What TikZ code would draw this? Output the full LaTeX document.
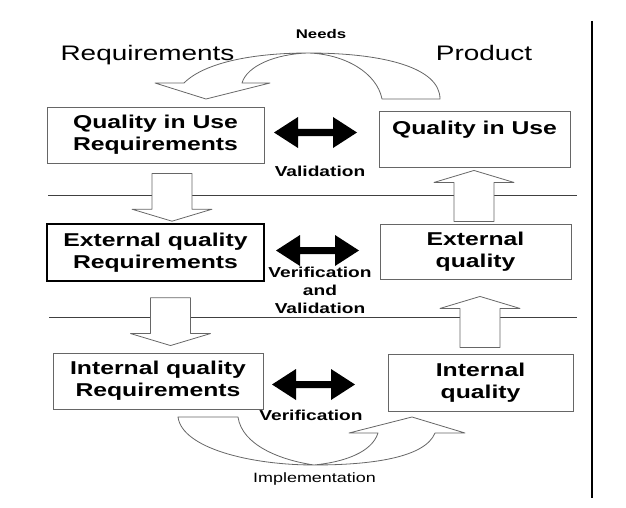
\documentclass[tikz,border=0pt]{standalone}
\usepackage{fontspec}
\setmainfont{Liberation Sans}[FakeStretch=1.33]
\usetikzlibrary{calc}

\begin{document}
\begin{tikzpicture}[x=1pt,y=-1pt,
    box/.style={draw=black!60, line width=0.9pt, align=center, font=\fontsize{18.6}{22}\selectfont\bfseries},
    hollow/.style={draw=black!60, line width=0.8pt, fill=white, line join=round},
    lbl/.style={font=\fontsize{14.4}{18}\selectfont\bfseries, align=center},
    head/.style={font=\fontsize{21}{25}\selectfont, anchor=base}]
  \useasboundingbox (0,0) rectangle (626,508);

  % Titles of the two columns
  \node[head] (req) at (147.5,61) {Requirements};
  \node[head] (prod) at (484,61) {Product};

  % Boxes, requirements on the left, product on the right
  \node[box, minimum width=217pt, minimum height=56pt] (qur) at (155.5,135) {Quality in Use\\Requirements};
  \node[box, minimum width=191pt, minimum height=56pt, text depth=21.6pt] (qu) at (474.5,139) {Quality in Use};
  \node[box, draw=black, line width=1.6pt, minimum width=217pt, minimum height=57pt] (eqr) at (155.5,252.5) {External quality\\Requirements};
  \node[box, minimum width=191pt, minimum height=55pt] (eq) at (475.5,251.5) {External\\quality};
  \node[box, minimum width=210pt, minimum height=56pt] (iqr) at (158,381) {Internal quality\\Requirements};
  \node[box, minimum width=185pt, minimum height=57pt] (iq) at (480.5,382.5) {Internal\\quality};

  % Labels
  \node[lbl, font=\fontsize{12.6}{15}\selectfont\bfseries, anchor=base] (needs) at (321,38.3) {Needs};
  \node[lbl, anchor=base] (val) at (320,176) {Validation};
  \node[lbl] (vv) at (320,290) {Verification\\and\\Validation};
  \node[lbl, anchor=base] (ver) at (311,420.7) {Verification};
  \node[anchor=base, font=\fontsize{13.5}{16}\selectfont] (impl) at (314.5,482.7) {Implementation};

  % Separators
  \draw[black!75, line width=1pt] (48,195) -- (577,195);
  \draw[black!75, line width=1pt] (49,317) -- (577,317);
  \draw[line width=1.2pt] (592,21) -- (592,498);

  % Black double arrows between the columns
  \foreach \cx/\cy in {315.5/132.5, 317.5/250.5, 313.5/384.5} {
      \fill (\cx,\cy) ++(-41.5,0) -- ++(24,-15.5) -- ++(0,12) -- ++(35,0) -- ++(0,-12)
          -- ++(24,15.5) -- ++(-24,15.5) -- ++(0,-12) -- ++(-35,0) -- ++(0,12) -- cycle;
  }

  % Hollow block arrows between the rows
  \foreach \src/\dst/\dx/\gs/\gd in {qur.south/eqr.north/16.5/10/2, eq.north/qu.south/-1.5/2/3,
                                     eqr.south/iqr.north/15/16/7, iq.north/eq.south/-0.5/6/17} {
      \path ($(\src)+(\dx,0)$) coordinate (s) (s |- \dst) coordinate (d)
          ($(s)!\gs pt!(d)$) coordinate (t) ($(d)!\gd pt!(s)$) coordinate (p)
          ($(p)!12pt!(t)$) coordinate (h);
      \draw[hollow] ($(t)+(-20,0)$) -- ($(h)+(-20,0)$) -- ($(h)+(-40,0)$) -- (p)
          -- ($(h)+(40,0)$) -- ($(h)+(20,0)$) -- ($(t)+(20,0)$) -- cycle;
  }

  % Needs: curved arrow from the product side back to the requirements
  \draw[hollow, fill=none] (440,99) .. controls (440,68) and (385,53) .. (308,53)
      .. controls (275,54) and (247,66) .. (242,83) -- (270,83) -- (206,99) -- (155,83) -- (184,83)
      .. controls (205,62) and (255,53) .. (308,53) .. controls (345,54) and (377,73) .. (382,99) -- cycle;

  % Implementation: curved arrow from the requirements to the product
  \draw[hollow, fill=none] (178,417) .. controls (182,448) and (250,465) .. (314,465)
      .. controls (370,465) and (425,458) .. (435,433) -- (465,433) -- (412,417) -- (349,433) -- (378,433)
      .. controls (372,452) and (345,462) .. (314,465) .. controls (280,460) and (242,445) .. (238,417) -- cycle;
\end{tikzpicture}
\end{document}
